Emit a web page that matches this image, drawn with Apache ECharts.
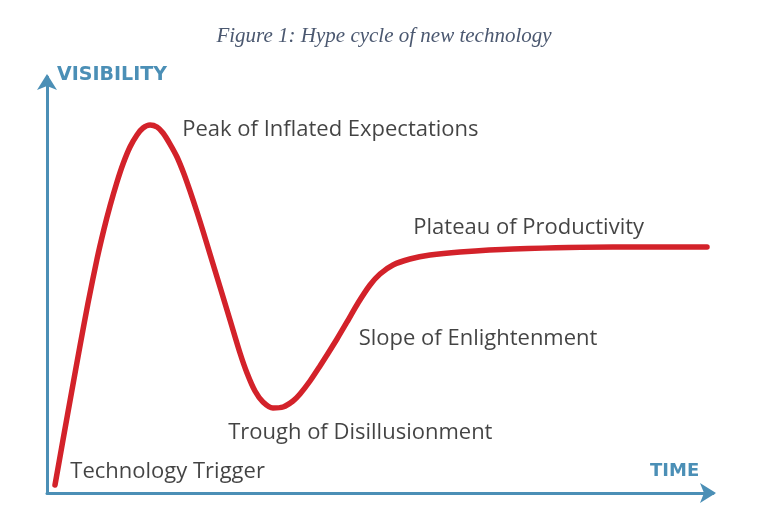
<!DOCTYPE html>
<html>
<head>
<meta charset="utf-8">
<script src="https://cdn.jsdelivr.net/npm/echarts@6/dist/echarts.min.js"></script>
<style>html,body{margin:0;padding:0;background:#fff}#c{width:768px;height:517px}</style>
</head>
<body>
<div id="c"></div>
<script>
// Curve points: [time, visibility] in arbitrary 0-100 units
const curveTime = [1.20, 2.40, 3.75, 4.95, 6.16, 7.51, 8.56, 9.46, 10.51, 11.41, 12.46, 13.51, 14.41, 15.47, 16.52, 17.42, 18.47, 19.52, 20.57, 21.47, 22.52, 23.42, 24.47, 25.98, 27.48, 28.98, 30.03, 31.23, 32.43, 33.93, 35.44, 36.94, 37.99, 39.49, 40.99, 42.04, 43.54, 45.05, 46.70, 48.50, 50.00, 51.95, 54.50, 57.51, 62.01, 69.97, 84.98, 99.10];
const curveVis  = [1.92, 12.74, 24.76, 35.34, 45.67, 56.25, 63.46, 68.99, 74.76, 79.09, 83.17, 86.06, 87.74, 88.46, 87.98, 86.54, 83.89, 80.77, 76.68, 72.60, 67.55, 62.98, 57.45, 49.52, 41.59, 33.65, 28.85, 24.52, 21.88, 20.43, 20.67, 22.12, 23.80, 26.92, 30.53, 33.17, 37.02, 41.11, 45.67, 50.00, 52.64, 54.81, 56.25, 57.21, 57.93, 58.65, 59.13, 59.13];

const phaseNames = ['Peak of Inflated Expectations', 'Plateau of Productivity', 'Slope of Enlightenment', 'Trough of Disillusionment', 'Technology Trigger'];
const phaseTime  = [20.3, 55.0, 46.8, 27.2, 3.5];
const phaseVis   = [87.3, 63.7, 37.0, 14.4, 5.0];

const titleText = 'Figure 1: Hype cycle of new technology';
const yName = 'VISIBILITY';
const xName = 'TIME';

const axisColor = '#4b8fb6';
const chart = echarts.init(document.getElementById('c'));
chart.setOption({
  animation: false,
  title: {
    text: titleText, left: 'center', top: 21,
    textStyle: { fontFamily: 'Liberation Serif', fontStyle: 'italic', fontWeight: 'normal', fontSize: 21, color: '#4b5870' }
  },
  grid: { left: 47, right: 55, top: 77, bottom: 24 },
  xAxis: {
    type: 'value', min: 0, max: 100,
    axisLine: { lineStyle: { color: axisColor, width: 3 }, symbol: ['none', 'arrow'], symbolSize: [15, 16], symbolOffset: [0, 3] },
    axisTick: { show: false }, axisLabel: { show: false }, splitLine: { show: false },
    name: xName, nameLocation: 'end', nameGap: -63,
    nameTextStyle: { color: axisColor, fontFamily: 'DejaVu Sans', fontWeight: 'bold', fontSize: 18, verticalAlign: 'bottom', padding: [0, 0, 13, 0] }
  },
  yAxis: {
    type: 'value', min: 0, max: 100,
    axisLine: { lineStyle: { color: axisColor, width: 3 }, symbol: ['none', 'arrow'], symbolSize: [15, 16], symbolOffset: [0, 3] },
    axisTick: { show: false }, axisLabel: { show: false }, splitLine: { show: false },
    name: yName, nameLocation: 'end', nameGap: 2,
    nameTextStyle: { color: axisColor, fontFamily: 'DejaVu Sans', fontWeight: 'bold', fontSize: 19, align: 'left', verticalAlign: 'middle', padding: [0, 0, 0, 10] }
  },
  series: [
    {
      type: 'line', smooth: 0.25, showSymbol: false,
      data: curveTime.map((t, i) => [t, curveVis[i]]),
      lineStyle: { color: '#d3222a', width: 5.5, cap: 'round', join: 'round' }
    },
    {
      type: 'scatter', symbolSize: 0,
      data: phaseTime.map((t, i) => ({ value: [t, phaseVis[i]], name: phaseNames[i] })),
      label: {
        show: true, position: 'right', distance: 0, formatter: p => p.name,
        color: '#141414', fontFamily: 'Open Sans', fontSize: 22
      }
    }
  ]
});
</script>
</body>
</html>
